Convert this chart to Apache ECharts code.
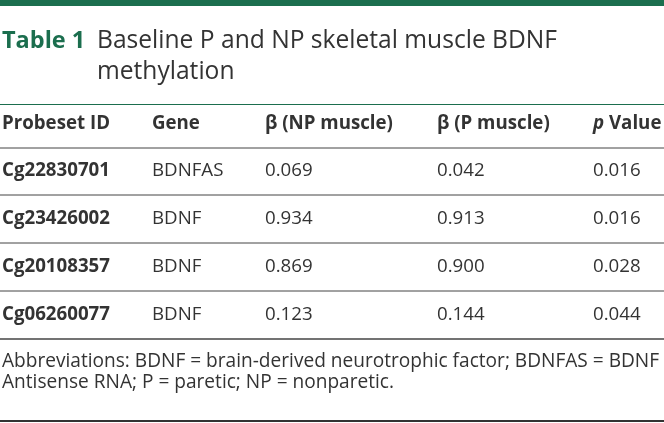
<!DOCTYPE html>
<html><head><meta charset="utf-8">
<script src="https://cdn.jsdelivr.net/npm/echarts@6/dist/echarts.min.js"></script>
<style>html,body{margin:0;padding:0;background:#fff}#c{width:664px;height:423px}</style>
</head><body><div id="c"></div>
<script>
const titleLabel = 'Table 1';
const titleLines = ['Baseline P and NP skeletal muscle BDNF', 'methylation'];
const headers = ['Probeset ID', 'Gene', 'β (NP muscle)', 'β (P muscle)', '{i|p} Value'];
const probeIds = ['Cg22830701', 'Cg23426002', 'Cg20108357', 'Cg06260077'];
const genes = ['BDNFAS', 'BDNF', 'BDNF', 'BDNF'];
const betaNP = ['0.069', '0.934', '0.869', '0.123'];
const betaP = ['0.042', '0.913', '0.900', '0.144'];
const pValues = ['0.016', '0.016', '0.028', '0.044'];
const footnote = ['Abbreviations: BDNF = brain-derived neurotrophic factor; BDNFAS = BDNF', 'Antisense RNA; P = paretic; NP = nonparetic.'];

const FONT = '"Open Sans", "Noto Sans", sans-serif';
const GREEN = '#1b6e4e';
const TEXT = '#333333';
const colX = [2, 152, 265, 437, 593];
const BODY = 18.7;
const headerY = 124;
const rowY0 = 171, rowStep = 48;
const ruleYs = [148, 195, 243, 291, 339];

const g = [];
function txt(s, x, y, size, weight, color, rich) {
  const st = { text: s, x: x, y: y, fontSize: size, fontWeight: weight, fontFamily: FONT, fill: color, verticalAlign: 'middle', align: 'left' };
  if (rich) st.rich = rich;
  g.push({ type: 'text', style: st, silent: true });
}
function hline(y, w, color) {
  g.push({ type: 'line', shape: { x1: 0, y1: y, x2: 664, y2: y }, style: { stroke: color, lineWidth: w }, silent: true });
}
// top bar
g.push({ type: 'rect', shape: { x: 0, y: 0, width: 664, height: 6 }, style: { fill: GREEN }, silent: true });
// title
txt(titleLabel, 2, 41, 23.5, 'bold', GREEN);
titleLines.forEach((t, i) => txt(t, 97, 41 + i * 31, 24.6, 'normal', TEXT));
// header
hline(104.5, 1, GREEN);
headers.forEach((h, i) => txt(h, colX[i], headerY, BODY, 'bold', TEXT,
  { i: { fontStyle: 'italic', fontWeight: 'bold', fontSize: BODY, fontFamily: FONT, fill: TEXT } }));
// rows
const cols = [probeIds, genes, betaNP, betaP, pValues];
probeIds.forEach((_, r) => {
  cols.forEach((c, ci) => txt(c[r], colX[ci], rowY0 + r * rowStep, BODY, ci === 0 ? 'bold' : 'normal', TEXT));
});
ruleYs.forEach((y, i) => hline(y, i === ruleYs.length - 1 ? 1.5 : 1, '#444'));
// footnote
footnote.forEach((t, i) => txt(t, 2, 362 + i * 21, 19.1, 'normal', TEXT));
hline(421, 2, '#333');

const chart = echarts.init(document.getElementById('c'), null, { renderer: 'canvas' });
chart.setOption({ animation: false, backgroundColor: '#fff', graphic: g });
</script></body></html>
